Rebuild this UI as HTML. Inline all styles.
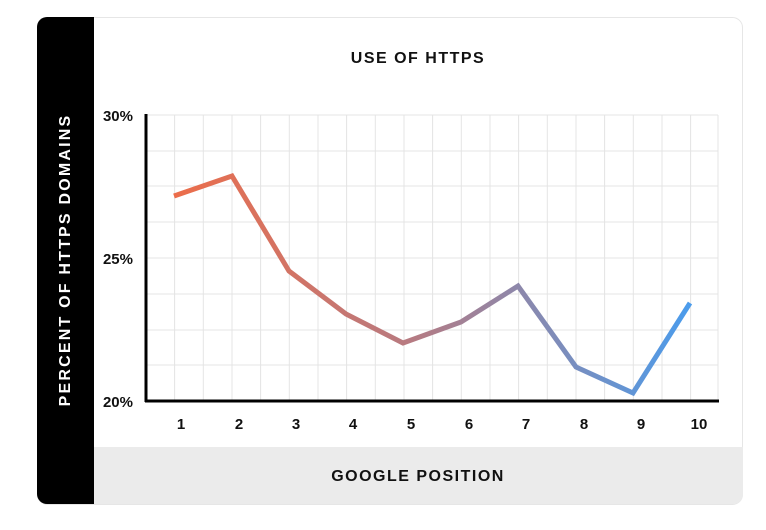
<!DOCTYPE html>
<html><head><meta charset="utf-8"><style>
body{margin:0;background:#fff;width:766px;height:525px;overflow:hidden;font-family:"Liberation Sans",sans-serif}
</style></head><body>
<svg width="766" height="525" viewBox="0 0 766 525">
<defs>
<linearGradient id="g" x1="174" y1="0" x2="690" y2="0" gradientUnits="userSpaceOnUse">
<stop offset="0" stop-color="#ec6d4a"/><stop offset="0.45" stop-color="#b87a80"/><stop offset="1" stop-color="#4b9cec"/>
</linearGradient>
<clipPath id="c"><rect x="37" y="17" width="706" height="487" rx="10"/></clipPath>
</defs>
<rect x="37.5" y="17.5" width="705" height="487" rx="10" fill="#fff" stroke="#e6e6e6"/>
<g clip-path="url(#c)">
<rect x="37" y="17" width="57" height="487" fill="#000"/>
<rect x="94" y="447" width="649" height="57" fill="#ebebeb"/>
</g>
<text x="66" y="260" transform="rotate(-90 66 260)" text-anchor="middle" dominant-baseline="middle" fill="#fff" font-weight="bold" font-size="16" letter-spacing="2.2">PERCENT OF HTTPS DOMAINS</text>
<text x="418" y="63" text-anchor="middle" font-weight="bold" font-size="16" letter-spacing="1.5" fill="#111">USE OF HTTPS</text>
<text x="418" y="481" text-anchor="middle" font-weight="bold" font-size="16" letter-spacing="1.5" fill="#111">GOOGLE POSITION</text>
<g stroke="#e4e4e4" stroke-width="1">
<line x1="146" y1="115" x2="718" y2="115"/><line x1="146" y1="151" x2="718" y2="151"/><line x1="146" y1="186" x2="718" y2="186"/><line x1="146" y1="222" x2="718" y2="222"/><line x1="146" y1="258" x2="718" y2="258"/><line x1="146" y1="294" x2="718" y2="294"/><line x1="146" y1="330" x2="718" y2="330"/><line x1="146" y1="365" x2="718" y2="365"/>
<line x1="174.6" y1="115" x2="174.6" y2="401"/><line x1="203.3" y1="115" x2="203.3" y2="401"/><line x1="232" y1="115" x2="232" y2="401"/><line x1="260.6" y1="115" x2="260.6" y2="401"/><line x1="289.3" y1="115" x2="289.3" y2="401"/><line x1="318" y1="115" x2="318" y2="401"/><line x1="346.6" y1="115" x2="346.6" y2="401"/><line x1="375.3" y1="115" x2="375.3" y2="401"/><line x1="404" y1="115" x2="404" y2="401"/><line x1="432.6" y1="115" x2="432.6" y2="401"/><line x1="461.3" y1="115" x2="461.3" y2="401"/><line x1="490" y1="115" x2="490" y2="401"/><line x1="518.6" y1="115" x2="518.6" y2="401"/><line x1="547.3" y1="115" x2="547.3" y2="401"/><line x1="576" y1="115" x2="576" y2="401"/><line x1="604.6" y1="115" x2="604.6" y2="401"/><line x1="633.3" y1="115" x2="633.3" y2="401"/><line x1="662" y1="115" x2="662" y2="401"/><line x1="690.6" y1="115" x2="690.6" y2="401"/><line x1="718" y1="115" x2="718" y2="401"/>
</g>
<line x1="146" y1="114" x2="146" y2="402" stroke="#000" stroke-width="3"/>
<line x1="145" y1="401" x2="719" y2="401" stroke="#000" stroke-width="3"/>
<g font-weight="bold" font-size="15" fill="#111" text-anchor="end">
<text x="133" y="121">30%</text><text x="133" y="264">25%</text><text x="133" y="407">20%</text>
</g>
<g font-weight="bold" font-size="15" fill="#111" text-anchor="middle">
<text x="181" y="429">1</text><text x="239" y="429">2</text><text x="296" y="429">3</text><text x="353" y="429">4</text><text x="411" y="429">5</text><text x="469" y="429">6</text><text x="526" y="429">7</text><text x="584" y="429">8</text><text x="641" y="429">9</text><text x="699" y="429">10</text>
</g>
<polyline fill="none" stroke="url(#g)" stroke-width="5" stroke-linejoin="miter" points="174,196 232,176 289,271 346,314 403,343 461,322 518,286 576,367 633,393 690,303"/>
</svg>
</body></html>
